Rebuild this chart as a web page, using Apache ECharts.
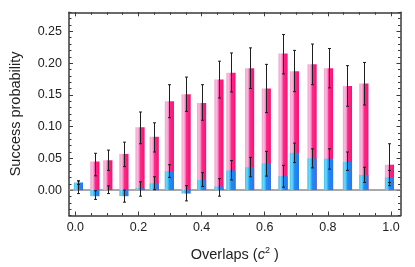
<!DOCTYPE html>
<html><head><meta charset="utf-8">
<script src="https://cdn.jsdelivr.net/npm/echarts@6/dist/echarts.min.js"></script>
<style>html,body{margin:0;padding:0;background:#fff}#c{width:415px;height:267px}</style>
</head><body><div id="c"></div>
<script>
const overlaps = [0.01,0.062,0.103,0.154,0.205,0.25,0.298,0.351,0.40,0.455,0.493,0.552,0.605,0.658,0.694,0.75,0.802,0.862,0.914,0.995];
const pinkVal = [0.002,0.045,0.047,0.057,0.099,0.084,0.140,0.151,0.137,0.174,0.185,0.192,0.160,0.215,0.187,0.198,0.192,0.164,0.168,0.040];
const pinkLo  = [-0.0055,0.0225,0.031,0.037,0.073,0.060,0.114,0.124,0.110,0.145,0.1545,0.160,0.122,0.183,0.155,0.166,0.161,0.132,0.134,0.007];
const pinkHi  = [0.0145,0.058,0.063,0.0755,0.123,0.106,0.166,0.178,0.166,0.203,0.216,0.224,0.198,0.245,0.220,0.230,0.223,0.196,0.201,0.073];
const blueVal = [0.012,-0.0096,0.0,-0.0096,0.003,0.0107,0.030,-0.0055,0.016,0.0057,0.031,0.036,0.042,0.022,0.0587,0.050,0.0495,0.0444,0.024,0.020];
const blueLo  = [0.009,-0.0147,-0.0055,-0.019,-0.0096,0.0006,0.020,-0.017,0.0057,-0.0096,0.016,0.021,0.022,0.0046,0.0434,0.035,0.033,0.031,0.012,0.012];
const blueHi  = [0.0145,-0.001,0.0067,0.0,0.013,0.021,0.040,0.007,0.0275,0.018,0.0465,0.0515,0.061,0.039,0.074,0.065,0.065,0.060,0.036,0.031];
const xMajor = [0,0.2,0.4,0.6,0.8,1.0];
const xMinor = [0,0.05,0.1,0.15,0.2,0.25,0.3,0.35,0.4,0.45,0.5,0.55,0.6,0.65,0.7,0.75,0.8,0.85,0.9,0.95,1.0];
const yMajor = [0,0.05,0.1,0.15,0.2,0.25];
const yMinor = [-0.04,-0.03,-0.02,-0.01,0,0.01,0.02,0.03,0.04,0.05,0.06,0.07,0.08,0.09,0.1,0.11,0.12,0.13,0.14,0.15,0.16,0.17,0.18,0.19,0.2,0.21,0.22,0.23,0.24,0.25,0.26,0.27,0.28];

const X_MIN=-0.02, X_MAX=1.03, Y_MIN=-0.04, Y_MAX=0.28;
const BAR_W = 0.029;
const frameColor = '#3a3a3a';
const font = 'Liberation Sans';

const pinkGrad = new echarts.graphic.LinearGradient(0,0,1,0,[
  {offset:0,color:'#f4a0cf'},{offset:0.22,color:'#f9bde0'},{offset:0.4,color:'#f58cc4'},
  {offset:0.52,color:'#ff2a8a'},{offset:1,color:'#f8126f'}]);
const blueGrad = new echarts.graphic.LinearGradient(0,0,1,0,[
  {offset:0,color:'#3cc4f2'},{offset:0.22,color:'#74d8fb'},{offset:0.4,color:'#36b6f2'},
  {offset:0.52,color:'#1e8ef2'},{offset:1,color:'#2f73ee'}]);

function barItem(fill){
  return function(params, api){
    const x = api.value(0), v = api.value(1);
    const p0 = api.coord([x - BAR_W/2, 0]);
    const p1 = api.coord([x + BAR_W/2, v]);
    const y0 = Math.min(p0[1], p1[1]), h = Math.abs(p0[1]-p1[1]);
    return {type:'rect', shape:{x:p0[0], y:y0, width:p1[0]-p0[0], height:h}, style:{fill:fill}};
  };
}
function errItem(params, api){
  const x = api.value(0);
  const lo = api.coord([x, api.value(1)]);
  const hi = api.coord([x, api.value(2)]);
  const c = Math.round(lo[0]) + 0.5;
  const st = {stroke:'#1e1e1e', lineWidth:1};
  return {type:'group', children:[
    {type:'line', shape:{x1:c,y1:lo[1],x2:c,y2:hi[1]}, style:st},
    {type:'line', shape:{x1:c-1.5,y1:lo[1],x2:c+1.5,y2:lo[1]}, style:st},
    {type:'line', shape:{x1:c-1.5,y1:hi[1],x2:c+1.5,y2:hi[1]}, style:st}
  ]};
}

const pinkData = overlaps.map((x,i)=>[x,pinkVal[i]]);
const blueData = overlaps.map((x,i)=>[x,blueVal[i]]);
const pinkErr = overlaps.map((x,i)=>[x,pinkLo[i],pinkHi[i]]);
const blueErr = overlaps.map((x,i)=>[x,blueLo[i],blueHi[i]]);

function xAx(pos, ticks, len, line, label, extra){
  return Object.assign({type:'value', position:pos, min:X_MIN, max:X_MAX,
    axisLine:{show:line, onZero:false, lineStyle:{color:frameColor,width:1.5}},
    axisTick:{show:true, inside:true, length:len, customValues:ticks, lineStyle:{color:frameColor,width:1}},
    axisLabel:{show:label, customValues:xMajor, formatter:v=>v.toFixed(1), color:'#222', fontSize:12.5, fontFamily:font, margin:6},
    splitLine:{show:false}}, extra||{});
}
function yAx(pos, ticks, len, line, label, extra){
  return Object.assign({type:'value', position:pos, min:Y_MIN, max:Y_MAX,
    axisLine:{show:line, onZero:false, lineStyle:{color:frameColor,width:1.5}},
    axisTick:{show:true, inside:true, length:len, customValues:ticks, lineStyle:{color:frameColor,width:1}},
    axisLabel:{show:label, customValues:yMajor, formatter:v=>v.toFixed(2), color:'#222', fontSize:12.5, fontFamily:font, margin:7},
    splitLine:{show:false}}, extra||{});
}

const chart = echarts.init(document.getElementById('c'), null, {renderer:'canvas'});
chart.setOption({
  animation:false,
  grid:{left:64, right:14.5, top:12.3, bottom:47, containLabel:false},
  xAxis:[
    xAx('bottom', xMajor, 4, true, true, {
      name:'Overlaps ({i|c}{s|2} )', nameLocation:'middle', nameGap:31,
      nameTextStyle:{color:'#222', fontSize:14.5, fontFamily:font,
        rich:{i:{fontStyle:'italic', fontSize:14.5, fontFamily:font, color:'#222'},
              s:{fontSize:9, fontFamily:font, color:'#222', verticalAlign:'top', padding:[0,0,7,0]}}}}),
    xAx('bottom', xMinor, 2.5, false, false),
    xAx('top', xMajor, 4, true, false),
    xAx('top', xMinor, 2.5, false, false)
  ],
  yAxis:[
    yAx('left', yMajor, 4, true, true, {name:'Success probability', nameLocation:'middle', nameGap:46,
      nameTextStyle:{color:'#222', fontSize:14.5, fontFamily:font}}),
    yAx('left', yMinor, 2.5, false, false),
    yAx('right', yMajor, 4, true, false),
    yAx('right', yMinor, 2.5, false, false)
  ],
  series:[
    {type:'custom', renderItem:barItem(pinkGrad), data:pinkData, z:2,
     markLine:{silent:true, symbol:'none', label:{show:false}, lineStyle:{color:'#8c8c8c', width:1.5, type:'solid'},
       data:[{yAxis:0}], z:1}},
    {type:'custom', renderItem:barItem(blueGrad), data:blueData, z:3},
    {type:'custom', renderItem:errItem, data:pinkErr, z:4},
    {type:'custom', renderItem:errItem, data:blueErr, z:4}
  ]
});
</script></body></html>
